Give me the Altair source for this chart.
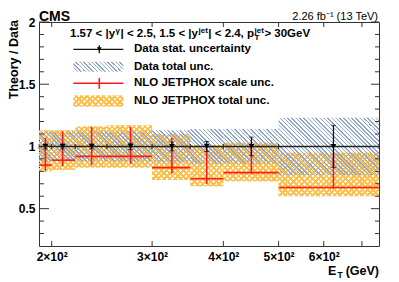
import math
import altair as alt
import pandas as pd

# ---------------- data ----------------
bin_lo = [190, 200, 220, 250, 300, 350, 400, 500]
bin_hi = [200, 220, 250, 300, 350, 400, 500, 750]
et_mean = [195, 209, 235, 275, 325, 374, 448, 624]
data_ratio = [1.0, 1.0, 1.0, 1.0, 1.0, 1.0, 1.0, 1.0]
stat_unc = [0.02, 0.02, 0.02, 0.025, 0.035, 0.04, 0.075, 0.17]
data_tot_unc = [0.12, 0.12, 0.12, 0.12, 0.13, 0.14, 0.14, 0.23]
nlo_central = [0.85, 0.89, 0.92, 0.92, 0.83, 0.74, 0.79, 0.67]
nlo_scale_lo = [0.80, 0.84, 0.85, 0.86, 0.78, 0.70, 0.78, 0.66]
nlo_scale_hi = [1.07, 1.12, 1.16, 1.16, 1.07, 0.98, 1.03, 0.94]
nlo_tot_lo = [0.80, 0.81, 0.83, 0.83, 0.73, 0.68, 0.72, 0.60]
nlo_tot_hi = [1.13, 1.13, 1.16, 1.17, 1.10, 1.01, 1.03, 0.95]

x_tick_vals = [200, 300, 400, 500, 600, 700]
x_label_vals = [200, 300, 400, 500, 600]
y_major = [0.5, 1.0, 1.5, 2.0]
y_minor = [0.3, 0.4, 0.6, 0.7, 0.8, 0.9, 1.1, 1.2, 1.3, 1.4, 1.6, 1.7, 1.8, 1.9]

legend_labels = ["Data stat. uncertainty", "Data total unc.",
                 "NLO JETPHOX scale unc.", "NLO JETPHOX total unc."]

# ---------------- layout ----------------
W, H = 340, 224
XMIN, XMAX = 190, 750
YMIN, YMAX = 0.2, 2.0
FONT = "Liberation Sans"
ORANGE = "#fec04c"
BLUE = "#8ea6d0"

df = pd.DataFrame({
    "lo": bin_lo, "hi": bin_hi, "x": et_mean, "r": data_ratio,
    "slo": [1 - s for s in stat_unc], "shi": [1 + s for s in stat_unc],
    "dlo": [1 - s for s in data_tot_unc], "dhi": [1 + s for s in data_tot_unc],
    "c": nlo_central, "sclo": nlo_scale_lo, "schi": nlo_scale_hi,
    "tlo": nlo_tot_lo, "thi": nlo_tot_hi,
})

xs = alt.Scale(type="log", domain=[XMIN, XMAX], nice=False, zero=False)
ys = alt.Scale(domain=[YMIN, YMAX], nice=False, zero=False)
xaxis = alt.Axis(values=x_label_vals, labelExpr="datum.value/100 + '×10²'",
                 ticks=False, tickSize=0, domain=False, grid=False, title=None,
                 labelFont=FONT, labelFontWeight="bold", labelFontSize=12,
                 labelColor="black", labelPadding=5, labelFlush=False,
                 labelOverlap=False)
yaxis = alt.Axis(values=y_major, labelExpr="datum.value + ''",
                 ticks=False, tickSize=0, domain=False, grid=False, title=None,
                 labelFont=FONT, labelFontWeight="bold", labelFontSize=12,
                 labelColor="black", labelPadding=4, labelFlush=False)


def X(f):
    return alt.X(f, type="quantitative", scale=xs, axis=xaxis)


def Y(f):
    return alt.Y(f, type="quantitative", scale=ys, axis=yaxis)


def px_x(v):
    return (math.log10(v) - math.log10(XMIN)) / math.log10(XMAX / XMIN) * W


def px_y(v):
    return (YMAX - v) / (YMAX - YMIN) * H


def stripes(x0, y0, w, h, period, lw, color, kind):
    s = w + h
    k = (w * w + h * h) / s
    if kind == "fwd":
        g = dict(x1=0, y1=0, x2=w / k, y2=h / k)
        phase = (x0 + y0) % period
    else:
        g = dict(x1=0, y1=1, x2=w / k, y2=1 - h / k)
        phase = (x0 - y0 - h) % period
    clear = "rgba(255,255,255,0)"
    stops = [(0.0, clear)]
    u = -phase
    while u < s:
        a = max(u, 0) / s
        b = min(u + lw, s) / s
        if b > a:
            stops += [(a, clear), (a, color), (b, color), (b, clear)]
        u += period
    stops.append((1.0, clear))
    g["gradient"] = "linear"
    g["stops"] = [{"offset": round(o, 5), "color": c} for o, c in stops]
    return g


layers = []

# NLO total uncertainty (orange cross-hatch)
for i in range(len(bin_lo)):
    x0, x1 = px_x(bin_lo[i]), px_x(bin_hi[i])
    y0, y1 = px_y(nlo_tot_hi[i]), px_y(nlo_tot_lo[i])
    for kind in ("fwd", "back"):
        g = stripes(x0, y0, x1 - x0, y1 - y0, 5.5, 2.7, ORANGE, kind)
        layers.append(alt.Chart(df.iloc[[i]]).mark_rect(fill=g).encode(
            x=X("lo"), x2="hi", y=Y("tlo"), y2="thi"))

# data total uncertainty (blue hatch)
for i in range(len(bin_lo)):
    x0, x1 = px_x(bin_lo[i]), px_x(bin_hi[i])
    y0, y1 = px_y(1 + data_tot_unc[i]), px_y(1 - data_tot_unc[i])
    g = stripes(x0, y0, x1 - x0, y1 - y0, 4.0, 1.3, BLUE, "back")
    layers.append(alt.Chart(df.iloc[[i]]).mark_rect(fill=g).encode(
        x=X("lo"), x2="hi", y=Y("dlo"), y2="dhi"))

# data horizontal bars at 1 and small end caps
layers.append(alt.Chart(df).mark_rule(color="#222", strokeWidth=1.5).encode(
    x=X("lo"), x2="hi", y=Y("r")))
for f in ("lo", "hi"):
    layers.append(alt.Chart(df).mark_tick(orient="vertical", size=5, thickness=1,
                                          color="#222").encode(x=X(f), y=Y("r")))

# NLO scale uncertainty (red)
layers.append(alt.Chart(df).mark_rule(color="#ff1a1a", strokeWidth=1.6).encode(
    x=X("lo"), x2="hi", y=Y("c")))
layers.append(alt.Chart(df).mark_rule(color="#ff1a1a", strokeWidth=1.6).encode(
    x=X("x"), y=Y("sclo"), y2="schi"))

# data statistical uncertainty (black)
layers.append(alt.Chart(df).mark_rule(color="#111", strokeWidth=1.3).encode(
    x=X("x"), y=Y("slo"), y2="shi"))
for f in ("slo", "shi"):
    layers.append(alt.Chart(df).mark_tick(orient="horizontal", size=5, thickness=1,
                                          color="#111").encode(x=X("x"), y=Y(f)))
layers.append(alt.Chart(df).mark_point(shape="triangle-down", filled=True, size=32,
                                       color="black", opacity=1).encode(
    x=X("x"), y=Y("r")))

# inward ticks
ymaj = pd.DataFrame({"v": y_major})
ymin = pd.DataFrame({"v": y_minor})
xt = pd.DataFrame({"v": x_tick_vals})
TC = "#333"
layers += [
    alt.Chart(ymaj).mark_rule(color=TC).encode(y=Y("v"), x=alt.value(0), x2=alt.value(10)),
    alt.Chart(ymin).mark_rule(color=TC).encode(y=Y("v"), x=alt.value(0), x2=alt.value(5)),
    alt.Chart(ymaj).mark_rule(color=TC).encode(y=Y("v"), x=alt.value(W - 8), x2=alt.value(W)),
    alt.Chart(ymin).mark_rule(color=TC).encode(y=Y("v"), x=alt.value(W - 4), x2=alt.value(W)),
    alt.Chart(xt).mark_rule(color=TC).encode(x=X("v"), y=alt.value(H - 5), y2=alt.value(H)),
    alt.Chart(xt).mark_rule(color=TC).encode(x=X("v"), y=alt.value(0), y2=alt.value(5)),
]

# ---------------- annotations ----------------
ann = pd.DataFrame({"d": [0]})


def text(txt, x, y, size, weight="bold", align="left", baseline="alphabetic", angle=0):
    return alt.Chart(ann).mark_text(text=txt, fontSize=size, fontWeight=weight, font=FONT,
                                    align=align, baseline=baseline, angle=angle,
                                    color="black").encode(x=alt.value(x), y=alt.value(y))


layers.append(text("CMS", 0, -1, 14))
layers.append(text("2.26 fb⁻¹ (13 TeV)", W - 1, -2, 11, weight="normal", align="right"))
layers.append(text("Theory / Data", -25.5, -2, 12.5, align="right", baseline="middle", angle=270))

# x title E_T (GeV)
layers.append(text("(GeV)", W, 253, 12.5, align="right"))
layers.append(text("E", 289, 253, 12.5))
layers.append(text("T", 298.5, 256, 8.5))

# header line with super/subscripts
AW = {"0": 556, "1": 556, "2": 556, "3": 556, "4": 556, "5": 556, "7": 556, ".": 278,
      " ": 278, "<": 584, ">": 584, "|": 280, "y": 556, ",": 278, "p": 611, "j": 278,
      "e": 556, "t": 333, "G": 778, "V": 667, "T": 611, "γ": 556}
FS, SS = 11.5, 8.0


def tw(s, size):
    return sum(AW.get(ch, 556) for ch in s) * size / 1000.0


pieces = [("1.57 < |y", "n"), ("γ", "sup"), ("| < 2.5, 1.5 < |y", "n"), ("jet", "sup"),
          ("| < 2.4, p", "n"), (("T", "jet"), "subsup"), (" > 30GeV", "n")]
hx, hy = 31.0, 15.0
for s, kind in pieces:
    if kind == "n":
        layers.append(text(s, hx, hy, FS))
        hx += tw(s, FS)
    elif kind == "sup":
        layers.append(text(s, hx + 0.5, hy - 4.5, SS))
        hx += tw(s, SS) + 1
    else:
        sub, sup = s
        layers.append(text(sub, hx + 0.5, hy + 3, SS))
        layers.append(text(sup, hx + 0.5, hy - 4.5, SS))
        hx += max(tw(sub, SS), tw(sup, SS)) + 1

# legend
LX0, LX1, LXM, LT = 34.3, 84.3, 60.3, 95.0
rows = [27.3, 44.7, 61.3, 79.0]
layers.append(alt.Chart(ann).mark_rule(color="#111", strokeWidth=1.3).encode(
    x=alt.value(LX0), x2=alt.value(LX1), y=alt.value(rows[0])))
layers.append(alt.Chart(ann).mark_rule(color="#111", strokeWidth=1.3).encode(
    x=alt.value(LXM), y=alt.value(rows[0] - 4), y2=alt.value(rows[0] + 4)))
layers.append(alt.Chart(ann).mark_point(shape="triangle-down", filled=True, size=22,
                                        color="black", opacity=1).encode(
    x=alt.value(LXM), y=alt.value(rows[0])))
gb = stripes(LX0, rows[1] - 5, LX1 - LX0, 10, 4.0, 1.3, BLUE, "back")
layers.append(alt.Chart(ann).mark_rect(fill=gb).encode(
    x=alt.value(LX0), x2=alt.value(LX1), y=alt.value(rows[1] - 5), y2=alt.value(rows[1] + 5)))
layers.append(alt.Chart(ann).mark_rule(color="#ff1a1a", strokeWidth=1.6).encode(
    x=alt.value(LX0), x2=alt.value(LX1), y=alt.value(rows[2])))
layers.append(alt.Chart(ann).mark_rule(color="#ff1a1a", strokeWidth=1.6).encode(
    x=alt.value(LXM), y=alt.value(rows[2] - 5.5), y2=alt.value(rows[2] + 5.5)))
for kind in ("fwd", "back"):
    go = stripes(LX0, rows[3] - 5.5, LX1 - LX0, 11, 5.5, 2.7, ORANGE, kind)
    layers.append(alt.Chart(ann).mark_rect(fill=go).encode(
        x=alt.value(LX0), x2=alt.value(LX1), y=alt.value(rows[3] - 5.5),
        y2=alt.value(rows[3] + 5.5)))
for lab, ry in zip(legend_labels, rows):
    layers.append(text(lab, LT, ry, 11.5, baseline="middle"))

chart = alt.layer(*layers).properties(
    width=W, height=H,
    autosize=alt.AutoSizeParams(type="none"),
    padding={"left": 31, "top": 14, "right": 12, "bottom": 34},
).configure_view(stroke="#333", strokeWidth=1)

chart.save("out.html", embed_options={"renderer": "svg", "actions": False})
